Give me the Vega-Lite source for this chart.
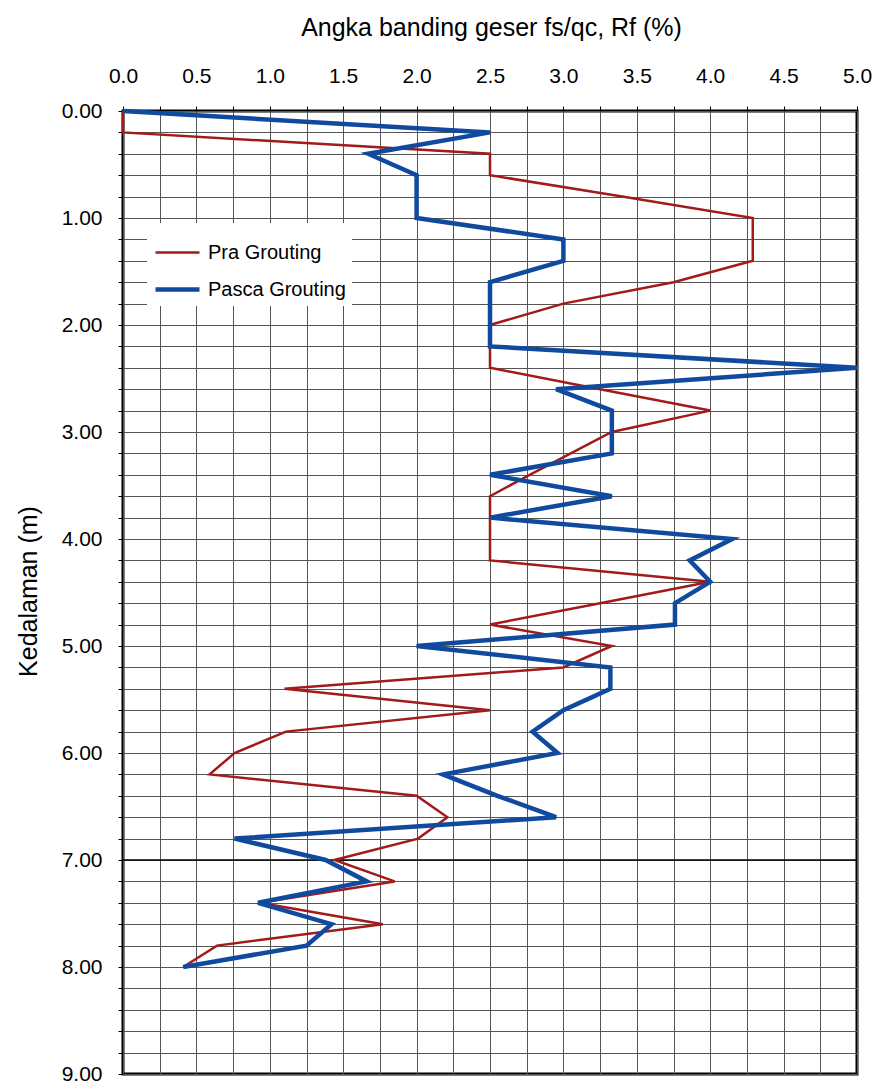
{
  "$schema": "https://vega.github.io/schema/vega-lite/v6.json",
  "width": 734,
  "height": 963,
  "autosize": "none",
  "padding": {"left": 123, "top": 111, "right": 23, "bottom": 16},
  "background": "white",
  "config": {
    "font": "Liberation Sans",
    "view": {"stroke": "black", "strokeWidth": 3}
  },
  "datasets": {
    "rf": [
      {"series": "Pra Grouting", "depth": 0.0, "rf": 0.0},
      {"series": "Pra Grouting", "depth": 0.2, "rf": 0.0},
      {"series": "Pra Grouting", "depth": 0.4, "rf": 2.5},
      {"series": "Pra Grouting", "depth": 0.6, "rf": 2.5},
      {"series": "Pra Grouting", "depth": 0.8, "rf": 3.4},
      {"series": "Pra Grouting", "depth": 1.0, "rf": 4.29},
      {"series": "Pra Grouting", "depth": 1.2, "rf": 4.29},
      {"series": "Pra Grouting", "depth": 1.4, "rf": 4.29},
      {"series": "Pra Grouting", "depth": 1.6, "rf": 3.75},
      {"series": "Pra Grouting", "depth": 1.8, "rf": 3.0},
      {"series": "Pra Grouting", "depth": 2.0, "rf": 2.5},
      {"series": "Pra Grouting", "depth": 2.2, "rf": 2.5},
      {"series": "Pra Grouting", "depth": 2.4, "rf": 2.5},
      {"series": "Pra Grouting", "depth": 2.6, "rf": 3.25},
      {"series": "Pra Grouting", "depth": 2.8, "rf": 4.0},
      {"series": "Pra Grouting", "depth": 3.0, "rf": 3.33},
      {"series": "Pra Grouting", "depth": 3.2, "rf": 3.05},
      {"series": "Pra Grouting", "depth": 3.4, "rf": 2.77},
      {"series": "Pra Grouting", "depth": 3.6, "rf": 2.5},
      {"series": "Pra Grouting", "depth": 3.8, "rf": 2.5},
      {"series": "Pra Grouting", "depth": 4.0, "rf": 2.5},
      {"series": "Pra Grouting", "depth": 4.2, "rf": 2.5},
      {"series": "Pra Grouting", "depth": 4.4, "rf": 4.0},
      {"series": "Pra Grouting", "depth": 4.6, "rf": 3.25},
      {"series": "Pra Grouting", "depth": 4.8, "rf": 2.5},
      {"series": "Pra Grouting", "depth": 5.0, "rf": 3.33},
      {"series": "Pra Grouting", "depth": 5.2, "rf": 3.0},
      {"series": "Pra Grouting", "depth": 5.4, "rf": 1.1},
      {"series": "Pra Grouting", "depth": 5.6, "rf": 2.5},
      {"series": "Pra Grouting", "depth": 5.8, "rf": 1.11},
      {"series": "Pra Grouting", "depth": 6.0, "rf": 0.76},
      {"series": "Pra Grouting", "depth": 6.2, "rf": 0.59},
      {"series": "Pra Grouting", "depth": 6.4, "rf": 2.0},
      {"series": "Pra Grouting", "depth": 6.6, "rf": 2.21},
      {"series": "Pra Grouting", "depth": 6.8, "rf": 2.01},
      {"series": "Pra Grouting", "depth": 7.0, "rf": 1.44},
      {"series": "Pra Grouting", "depth": 7.2, "rf": 1.85},
      {"series": "Pra Grouting", "depth": 7.4, "rf": 0.93},
      {"series": "Pra Grouting", "depth": 7.6, "rf": 1.77},
      {"series": "Pra Grouting", "depth": 7.8, "rf": 0.64},
      {"series": "Pra Grouting", "depth": 8.0, "rf": 0.41},
      {"series": "Pasca Grouting", "depth": 0.0, "rf": 0.0},
      {"series": "Pasca Grouting", "depth": 0.2, "rf": 2.5},
      {"series": "Pasca Grouting", "depth": 0.4, "rf": 1.67},
      {"series": "Pasca Grouting", "depth": 0.6, "rf": 2.0},
      {"series": "Pasca Grouting", "depth": 0.8, "rf": 2.0},
      {"series": "Pasca Grouting", "depth": 1.0, "rf": 2.0},
      {"series": "Pasca Grouting", "depth": 1.2, "rf": 3.0},
      {"series": "Pasca Grouting", "depth": 1.4, "rf": 3.0},
      {"series": "Pasca Grouting", "depth": 1.6, "rf": 2.5},
      {"series": "Pasca Grouting", "depth": 1.8, "rf": 2.5},
      {"series": "Pasca Grouting", "depth": 2.0, "rf": 2.5},
      {"series": "Pasca Grouting", "depth": 2.2, "rf": 2.5},
      {"series": "Pasca Grouting", "depth": 2.4, "rf": 5.0},
      {"series": "Pasca Grouting", "depth": 2.6, "rf": 2.95},
      {"series": "Pasca Grouting", "depth": 2.8, "rf": 3.33},
      {"series": "Pasca Grouting", "depth": 3.0, "rf": 3.33},
      {"series": "Pasca Grouting", "depth": 3.2, "rf": 3.33},
      {"series": "Pasca Grouting", "depth": 3.4, "rf": 2.5},
      {"series": "Pasca Grouting", "depth": 3.6, "rf": 3.33},
      {"series": "Pasca Grouting", "depth": 3.8, "rf": 2.5},
      {"series": "Pasca Grouting", "depth": 4.0, "rf": 4.15},
      {"series": "Pasca Grouting", "depth": 4.2, "rf": 3.86},
      {"series": "Pasca Grouting", "depth": 4.4, "rf": 4.0},
      {"series": "Pasca Grouting", "depth": 4.6, "rf": 3.76},
      {"series": "Pasca Grouting", "depth": 4.8, "rf": 3.76},
      {"series": "Pasca Grouting", "depth": 5.0, "rf": 2.0},
      {"series": "Pasca Grouting", "depth": 5.2, "rf": 3.32},
      {"series": "Pasca Grouting", "depth": 5.4, "rf": 3.32},
      {"series": "Pasca Grouting", "depth": 5.6, "rf": 3.0},
      {"series": "Pasca Grouting", "depth": 5.8, "rf": 2.79},
      {"series": "Pasca Grouting", "depth": 6.0, "rf": 2.96},
      {"series": "Pasca Grouting", "depth": 6.2, "rf": 2.18},
      {"series": "Pasca Grouting", "depth": 6.4, "rf": 2.55},
      {"series": "Pasca Grouting", "depth": 6.6, "rf": 2.95},
      {"series": "Pasca Grouting", "depth": 6.8, "rf": 0.76},
      {"series": "Pasca Grouting", "depth": 7.0, "rf": 1.38},
      {"series": "Pasca Grouting", "depth": 7.2, "rf": 1.66},
      {"series": "Pasca Grouting", "depth": 7.4, "rf": 0.92},
      {"series": "Pasca Grouting", "depth": 7.6, "rf": 1.42},
      {"series": "Pasca Grouting", "depth": 7.8, "rf": 1.25},
      {"series": "Pasca Grouting", "depth": 8.0, "rf": 0.41}
    ]
  },
  "encoding": {
    "y": {
      "field": "depth",
      "type": "quantitative",
      "scale": {"domain": [0, 9], "reverse": true, "nice": false, "zero": false},
      "axis": {
        "title": "Kedalaman (m)",
        "titleFontSize": 25,
        "titleFontWeight": "normal",
        "titleColor": "black",
        "titleAlign": "center",
        "titleBaseline": "middle",
        "titleX": -95,
        "titleY": 480,
        "values": [0, 0.2, 0.4, 0.6, 0.8, 1, 1.2, 1.4, 1.6, 1.8, 2, 2.2, 2.4, 2.6, 2.8, 3, 3.2, 3.4, 3.6, 3.8, 4, 4.2, 4.4, 4.6, 4.8, 5, 5.2, 5.4, 5.6, 5.8, 6, 6.2, 6.4, 6.6, 6.8, 7, 7.2, 7.4, 7.6, 7.8, 8, 8.2, 8.4, 8.6, 8.8, 9],
        "labelExpr": "abs(datum.value - round(datum.value)) < 0.001 ? format(datum.value, '.2f') : ''",
        "labelFontSize": 21,
        "labelColor": "black",
        "labelPadding": 16,
        "labelFlush": false,
        "labelOverlap": false,
        "tickSize": 5,
        "tickColor": "black",
        "domain": false,
        "grid": true,
        "gridColor": "#555555",
        "gridWidth": 1
      }
    }
  },
  "layer": [
    {
      "data": {"values": [{"depth": 7}]},
      "mark": {"type": "rule", "color": "black", "strokeWidth": 1.6}
    },
    {
      "data": {"name": "rf"},
      "mark": {"type": "line", "interpolate": "linear", "strokeJoin": "miter", "strokeCap": "butt"},
      "encoding": {
        "x": {
          "field": "rf",
          "type": "quantitative",
          "scale": {"domain": [0, 5], "nice": false, "zero": false},
          "axis": {
            "orient": "top",
            "title": "Angka banding geser fs/qc, Rf (%)",
            "titleFontSize": 25,
            "titleFontWeight": "normal",
            "titleColor": "black",
            "titleAlign": "center",
            "titleBaseline": "middle",
            "titleX": 368,
            "titleY": -84,
            "values": [0, 0.25, 0.5, 0.75, 1, 1.25, 1.5, 1.75, 2, 2.25, 2.5, 2.75, 3, 3.25, 3.5, 3.75, 4, 4.25, 4.5, 4.75, 5],
            "labelExpr": "datum.value % 0.5 == 0 ? format(datum.value, '.1f') : ''",
            "labelFontSize": 21,
            "labelColor": "black",
            "labelPadding": 20,
            "labelFlush": false,
            "labelOverlap": false,
            "tickSize": 5,
            "tickColor": "black",
            "domain": false,
            "grid": true,
            "gridColor": "#555555",
            "gridWidth": 1
          }
        },
        "order": {"field": "depth", "type": "quantitative"},
        "color": {
          "field": "series",
          "type": "nominal",
          "scale": {"domain": ["Pra Grouting", "Pasca Grouting"], "range": ["#a31a1a", "#0f4a9e"]},
          "legend": {
            "title": null,
            "orient": "none",
            "legendX": 24,
            "legendY": 112,
            "fillColor": "white",
            "padding": 6,
            "symbolType": "stroke",
            "symbolSize": 1936,
            "symbolStrokeWidth": 3.5,
            "labelFontSize": 20,
            "labelColor": "black",
            "labelOffset": 6,
            "rowPadding": 2
          }
        },
        "strokeWidth": {
          "field": "series",
          "type": "nominal",
          "scale": {"domain": ["Pra Grouting", "Pasca Grouting"], "range": [2.5, 4.5]},
          "legend": null
        }
      }
    }
  ]
}
